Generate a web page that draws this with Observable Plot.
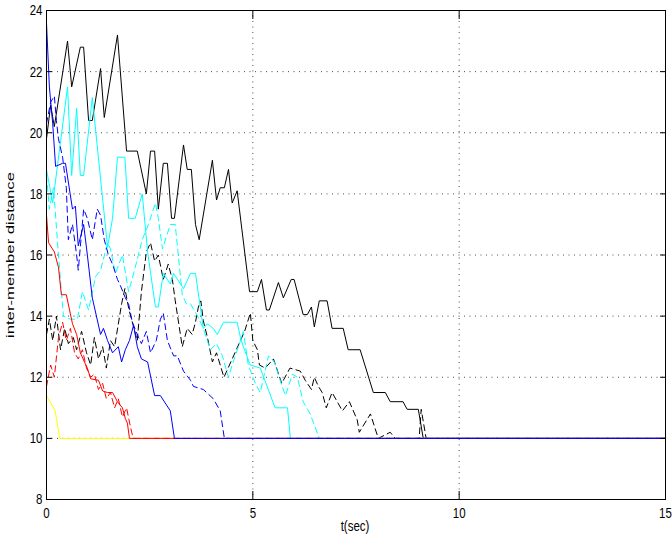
<!DOCTYPE html>
<html><head><meta charset="utf-8">
<script src="https://cdn.jsdelivr.net/npm/d3@7"></script>
<script src="https://cdn.jsdelivr.net/npm/@observablehq/plot@0.6"></script>
<style>
body{margin:0;background:#fff;}
svg{font-family:"Liberation Sans",Arial,Helvetica,sans-serif;}
</style>
</head><body><div id="chart"></div>
<script>
const xTicks = [0, 5, 10, 15];
const yTicks = [8, 10, 12, 14, 16, 18, 20, 22, 24];
const xLabel = "t(sec)";
const yLabel = "inter-member distance";

// [t (sec), distance]
const blackSolid = [[0,19.8],[0.10,20.9],[0.19,20.2],[0.51,23.0],[0.61,21.5],[0.82,22.8],[0.90,22.8],[1.02,20.4],[1.11,20.4],[1.31,22.1],[1.40,20.5],[1.72,23.2],[1.94,19.4],[2.20,19.4],[2.42,18.0],[2.52,19.4],[2.62,19.4],[2.71,17.5],[2.83,19.0],[2.93,19.0],[3.03,17.2],[3.10,17.2],[3.32,19.6],[3.41,18.8],[3.51,18.8],[3.61,17.0],[3.70,16.5],[4.02,19.1],[4.12,17.8],[4.21,18.2],[4.31,18.2],[4.41,18.8],[4.50,17.7],[4.62,18.1],[4.92,14.8],[5.11,14.8],[5.21,15.2],[5.33,14.2],[5.40,14.2],[5.62,15.1],[5.74,14.6],[5.93,15.2],[6.00,15.2],[6.22,14.05],[6.32,14.05],[6.42,14.3],[6.49,13.65],[6.61,14.5],[6.80,14.5],[6.92,13.6],[7.19,13.6],[7.31,12.9],[7.60,12.9],[7.92,11.5],[8.21,11.5],[8.33,11.2],[8.64,11.2],[8.74,10.95],[9.01,10.95],[9.13,10.0],[15,10]];

const blackDashed = [[0,13.4],[0.07,13.9],[0.15,13.2],[0.24,14.0],[0.34,12.9],[0.44,13.6],[0.53,13.1],[0.65,13.3],[0.73,12.9],[0.85,13.5],[0.97,12.8],[1.07,12.4],[1.16,13.3],[1.26,12.6],[1.36,13.0],[1.45,12.3],[1.55,13.2],[1.65,13.0],[1.82,14.4],[1.90,14.9],[2.00,14.2],[2.20,13.2],[2.30,14.8],[2.42,16.1],[2.52,16.4],[2.62,15.8],[2.71,16.0],[2.83,15.2],[2.95,15.7],[3.05,15.2],[3.12,14.5],[3.29,13.0],[3.41,13.6],[3.53,13.4],[3.61,13.8],[3.68,14.3],[3.74,14.5],[3.80,13.85],[3.90,13.3],[4.02,12.5],[4.12,12.8],[4.30,12.0],[4.50,12.6],[4.70,13.2],[4.80,13.5],[4.87,13.8],[4.94,14.1],[5.00,13.2],[5.11,12.9],[5.16,12.4],[5.30,12.3],[5.50,12.6],[5.70,11.8],[5.90,12.3],[6.15,12.2],[6.27,11.9],[6.42,11.6],[6.49,12.0],[6.59,11.7],[6.68,11.5],[6.78,11.0],[6.92,11.5],[7.17,10.9],[7.34,11.2],[7.53,10.6],[7.58,10.2],[7.85,10.8],[8.04,10.0],[8.33,10.2],[8.45,10.0],[9.03,10.0],[9.08,10.95],[9.20,10.0],[15,10]];

const cyanSolid = [[0,18.8],[0.15,17.7],[0.51,21.5],[0.61,18.6],[0.73,20.8],[0.82,18.6],[0.90,18.6],[1.11,21.15],[1.48,16.25],[1.60,17.2],[1.72,19.2],[1.90,19.2],[1.99,17.2],[2.15,17.2],[2.32,18.0],[2.45,16.1],[2.64,14.3],[2.71,14.3],[2.83,15.4],[3.00,15.05],[3.08,15.4],[3.32,14.9],[3.49,15.4],[3.61,15.4],[3.80,13.6],[3.90,13.75],[4.04,13.6],[4.14,13.4],[4.29,13.8],[4.62,13.8],[4.70,13.3],[4.77,13.0],[4.94,12.4],[5.18,12.3],[5.54,11.0],[5.84,11.0],[5.91,10.0],[15,10]];

const cyanDashed = [[0,18.6],[0.07,17.5],[0.17,18.2],[0.29,16.0],[0.41,14.0],[0.58,13.9],[0.75,13.9],[0.87,14.8],[1.02,14.2],[1.19,15.3],[1.31,15.5],[1.48,16.4],[1.55,16.2],[1.67,15.4],[1.84,16.0],[1.99,14.8],[2.15,15.6],[2.32,16.5],[2.47,17.0],[2.64,17.7],[2.71,17.2],[2.81,16.2],[3.00,17.0],[3.12,17.0],[3.20,15.9],[3.29,14.7],[3.39,14.4],[3.49,14.4],[3.66,14.0],[3.80,13.6],[3.97,12.9],[4.12,13.1],[4.26,12.7],[4.41,12.0],[4.50,12.4],[4.70,13.2],[4.77,13.5],[4.89,12.4],[5.06,11.8],[5.18,11.5],[5.38,12.7],[5.52,12.5],[5.71,11.7],[5.79,11.4],[5.96,12.1],[6.08,12.0],[6.22,11.2],[6.39,10.8],[6.61,10.0],[15,10]];

const blueSolid = [[0,23.6],[0.07,21.5],[0.15,20.3],[0.22,18.9],[0.39,19.0],[0.46,19.0],[0.63,17.5],[0.70,17.6],[0.77,16.3],[0.90,17.0],[0.99,16.0],[1.11,14.6],[1.31,13.4],[1.38,13.6],[1.48,13.2],[1.60,12.8],[1.74,13.0],[1.82,12.5],[1.91,12.9],[2.01,13.2],[2.11,13.7],[2.20,13.0],[2.30,12.6],[2.45,12.5],[2.62,11.4],[2.76,11.4],[3.00,10.9],[3.10,10.0],[15,10]];

const blueDashed = [[0,20.3],[0.10,21.0],[0.19,21.2],[0.24,20.4],[0.29,19.8],[0.39,19.2],[0.48,18.2],[0.53,16.5],[0.63,17.0],[0.73,16.0],[0.77,15.5],[0.90,17.5],[0.99,17.2],[1.11,16.5],[1.23,17.5],[1.31,17.3],[1.40,16.5],[1.50,16.0],[1.60,15.7],[1.72,15.2],[1.79,15.0],[1.91,14.6],[1.99,14.4],[2.08,13.8],[2.20,13.4],[2.30,13.1],[2.42,13.5],[2.52,12.8],[2.66,13.2],[2.76,13.9],[2.83,14.1],[2.93,13.2],[3.08,12.7],[3.17,12.7],[3.32,12.2],[3.49,11.9],[3.56,11.7],[3.80,11.6],[4.04,11.3],[4.21,10.9],[4.31,10.0],[15,10]];

const redSolid = [[0,17.3],[0.05,16.4],[0.19,16.1],[0.29,15.6],[0.36,14.7],[0.48,14.7],[0.63,13.75],[0.73,13.4],[0.82,12.8],[0.92,12.5],[0.99,12.3],[1.07,11.95],[1.26,11.9],[1.36,11.55],[1.48,11.5],[1.60,11.5],[1.72,11.2],[1.84,11.0],[1.91,10.65],[1.96,10.5],[2.01,10.0],[15,10]];

const redDashed = [[0,11.7],[0.10,12.4],[0.19,12.0],[0.29,13.3],[0.39,13.8],[0.48,13.2],[0.58,13.6],[0.68,12.8],[0.77,12.6],[0.87,12.9],[0.97,12.3],[1.07,12.0],[1.16,12.1],[1.26,11.6],[1.36,11.8],[1.45,11.3],[1.55,11.5],[1.65,11.0],[1.74,11.3],[1.84,10.7],[1.94,11.0],[2.03,10.4],[2.10,10.0],[15,10]];

const yellowSolid = [[0,11.4],[0.21,10.9],[0.32,10.0],[15,10]];

// drawing order: bottom to top
const series = [
  {data: blackSolid,  stroke: "#000000", dash: null},
  {data: blackDashed, stroke: "#000000", dash: "6,4"},
  {data: cyanSolid,   stroke: "#00ffff", dash: null},
  {data: cyanDashed,  stroke: "#00ffff", dash: "6,4"},
  {data: yellowSolid, stroke: "#ffff00", dash: null},
  {data: redDashed,   stroke: "#ff0000", dash: "6,4"},
  {data: redSolid,    stroke: "#ff0000", dash: null},
  {data: blueDashed,  stroke: "#0000ff", dash: "6,4"},
  {data: blueSolid,   stroke: "#0000ff", dash: null}
];

const rows = d => d.map(([t, v]) => ({t, v}));
const gridStyle = {stroke: "#000", strokeOpacity: 0.7, strokeDasharray: "1,4.5", strokeWidth: 1};

const plot = Plot.plot({
  width: 672, height: 538,
  marginLeft: 46, marginRight: 7, marginTop: 10, marginBottom: 39,
  x: {domain: [0, 15]},
  y: {domain: [8, 24]},
  style: {background: "#fff", fontFamily: "'Liberation Sans',Arial,sans-serif", overflow: "visible"},
  marks: [
    Plot.gridX(xTicks, gridStyle),
    Plot.gridY(yTicks, gridStyle),
    ...series.map(s => Plot.line(rows(s.data), {x: "t", y: "v", stroke: s.stroke, strokeWidth: 1, strokeDasharray: s.dash})),
    Plot.frame({stroke: "#000", strokeWidth: 1}),
    // inward ticks
    Plot.axisY(yTicks, {anchor: "left", tickSize: 6, dx: 6, tickFormat: () => "", label: null}),
    Plot.axisY(yTicks, {anchor: "right", tickSize: 6, dx: -6, tickFormat: () => "", label: null}),
    Plot.axisX(xTicks, {anchor: "bottom", tickSize: 8, dy: -8, tickFormat: () => "", label: null}),
    Plot.axisX(xTicks, {anchor: "top", tickSize: 8, dy: 8, tickFormat: () => "", label: null}),
    // labels
    Plot.axisY(yTicks, {anchor: "left", tickSize: 0, tickPadding: 4, fontSize: 11.5, label: null}),
    Plot.axisX(xTicks, {anchor: "bottom", tickSize: 0, tickPadding: 7, fontSize: 11.5, label: null})
  ]
});

document.getElementById("chart").appendChild(plot);
const svg = d3.select(plot);
// vertical stretch of tick labels to match the reference's proportions
svg.selectAll('g[aria-label$="tick label"] text').each(function() {
  const tr = this.getAttribute("transform") || "";
  this.setAttribute("transform", tr + " scale(1,1.35)");
});
svg.append("text")
  .attr("transform", "translate(355,526) scale(1,1.35)")
  .attr("text-anchor", "middle").attr("dy", "0.32em")
  .attr("font-size", 11.5).attr("fill", "#000")
  .text(xLabel);
svg.append("text")
  .attr("transform", "translate(10,255) rotate(-90)")
  .attr("text-anchor", "middle").attr("dy", "0.32em")
  .attr("font-size", 11).attr("fill", "#000")
  .attr("textLength", 166).attr("lengthAdjust", "spacingAndGlyphs")
  .text(yLabel);
</script>
</body></html>
